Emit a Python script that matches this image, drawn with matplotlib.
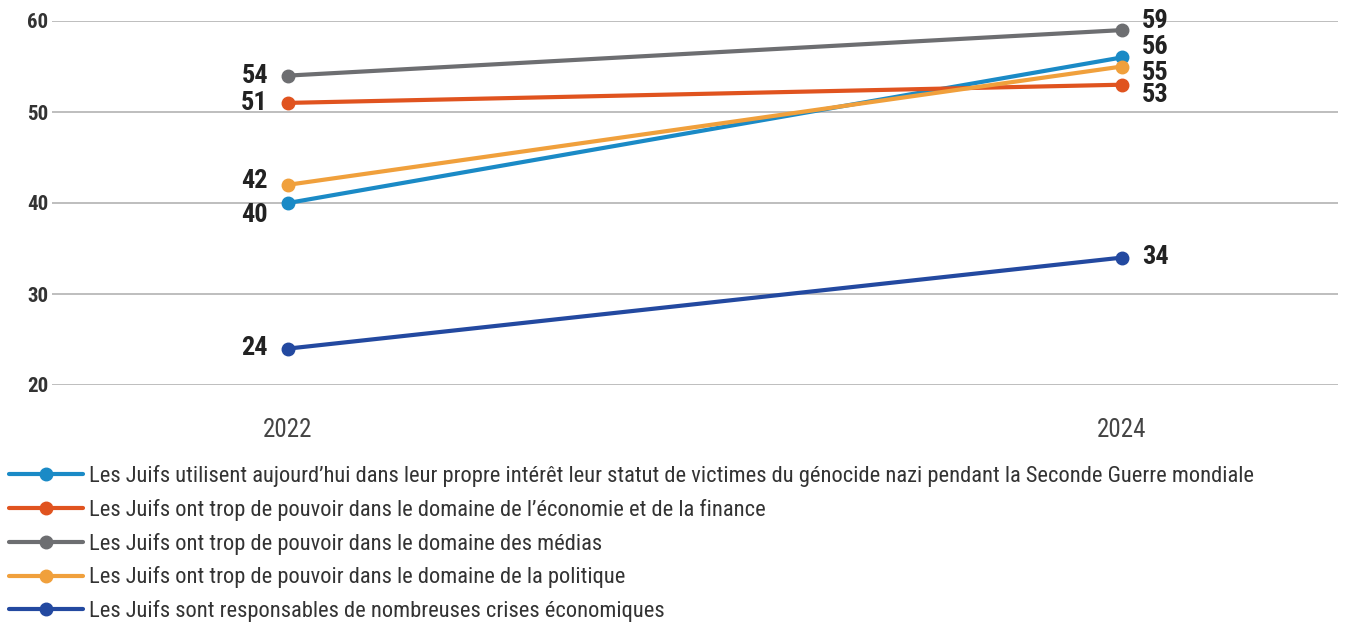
import matplotlib
matplotlib.use('Agg')
import matplotlib.pyplot as plt
from matplotlib import font_manager

# police étroite si disponible, sinon Roboto un peu plus petite
names = {f.name for f in font_manager.fontManager.ttflist}
narrow = [n for n in ['Roboto Condensed', 'Liberation Sans Narrow', 'Open Sans Condensed'] if n in names]
if narrow:
    font = narrow[0]
    leg_size = 16.2
else:
    font = 'Roboto'
    leg_size = 14.6
plt.rcParams['font.family'] = [font, 'DejaVu Sans']

# données
years = ['2022', '2024']
labels = [
    "Les Juifs utilisent aujourd\u2019hui dans leur propre intérêt leur statut de victimes du génocide nazi pendant la Seconde Guerre mondiale",
    "Les Juifs ont trop de pouvoir dans le domaine de l\u2019économie et de la finance",
    "Les Juifs ont trop de pouvoir dans le domaine des médias",
    "Les Juifs ont trop de pouvoir dans le domaine de la politique",
    "Les Juifs sont responsables de nombreuses crises économiques",
]
v2022 = [40, 51, 54, 42, 24]
v2024 = [56, 53, 59, 55, 34]
colors = ['#1a8ac6', '#e0531f', '#6d6e71', '#f0a03c', '#2349a0']

# décalage vertical des étiquettes (pixels) pour éviter les chevauchements
off2022 = [-12, 0, 0, 4, 1]
off2024 = [10, -10, 9, -6, 1]

fig = plt.figure(figsize=(13.46, 6.26), dpi=100)
ax = fig.add_axes([52/1346, 1-385/626, (1338-52)/1346, 364/626])

x = [0, 1]
handles = []
for i in range(len(labels)):
    h, = ax.plot(x, [v2022[i], v2024[i]], color=colors[i], lw=3, marker='o',
                 markersize=9, solid_capstyle='round', zorder=3, clip_on=False)
    handles.append(h)
    ax.annotate(str(v2022[i]), (0, v2022[i]), xytext=(-20, off2022[i]),
                textcoords='offset pixels', ha='right', va='center',
                fontsize=19, fontweight='bold', color='#222222')
    ax.annotate(str(v2024[i]), (1, v2024[i]), xytext=(20, off2024[i]),
                textcoords='offset pixels', ha='left', va='center',
                fontsize=19, fontweight='bold', color='#222222')

ax.set_xlim(-0.283, 1.259)
ax.set_ylim(20, 60)
ax.set_yticks([20, 30, 40, 50, 60])
ax.set_xticks(x)
ax.set_xticklabels(years)
ax.grid(axis='y', color='#b3b3b3', lw=1.2)
ax.set_axisbelow(True)
for s in ax.spines.values():
    s.set_visible(False)
ax.tick_params(axis='both', length=0)
ax.tick_params(axis='y', labelsize=15, labelcolor='#333333', pad=18)
ax.tick_params(axis='x', labelsize=18, labelcolor='#444444', pad=24)
for t in ax.get_yticklabels():
    t.set_horizontalalignment('left')
    t.set_fontweight('bold')

px = leg_size * 100 / 72
fig.legend(handles, labels, loc='upper left', bbox_to_anchor=(0.0, 1-456/626),
           frameon=False, fontsize=leg_size, handlelength=74/px, handletextpad=6/px,
           labelspacing=(34.3 - px) / px, borderaxespad=0, labelcolor='#333333')

fig.savefig('out.png', dpi=100)
